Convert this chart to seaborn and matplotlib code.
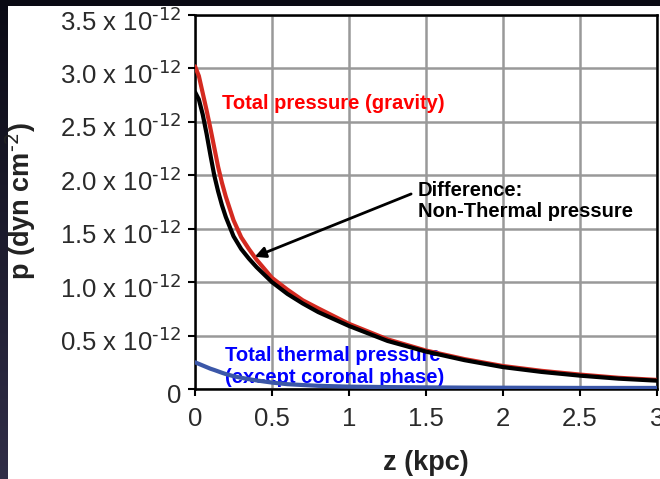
import numpy as np
import pandas as pd
import matplotlib
matplotlib.use("Agg")
import matplotlib.pyplot as plt
from matplotlib.patches import Rectangle
from matplotlib.ticker import FixedLocator, FixedFormatter
from matplotlib.transforms import ScaledTranslation
import seaborn as sns

# Height above the disc (kpc)
z_kpc = [0.0, 0.025, 0.05, 0.075, 0.1, 0.125, 0.15, 0.175, 0.2, 0.25, 0.3, 0.35, 0.4,
         0.5, 0.6, 0.7, 0.8, 1.0, 1.25, 1.5, 1.75, 2.0, 2.25, 2.5, 2.75, 3.0]
# Pressures in units of 1e-12 dyn cm^-2
p_total = [3.02, 2.93, 2.77, 2.61, 2.44, 2.26, 2.08, 1.93, 1.80, 1.58, 1.42, 1.31, 1.21,
           1.04, 0.93, 0.83, 0.755, 0.61, 0.465, 0.36, 0.28, 0.215, 0.17, 0.135, 0.105,
           0.085]
p_nonthermal = [2.78, 2.71, 2.57, 2.39, 2.19, 2.00, 1.85, 1.72, 1.61, 1.43, 1.31, 1.22,
                1.14, 1.00, 0.89, 0.80, 0.72, 0.59, 0.45, 0.35, 0.27, 0.205, 0.16, 0.125,
                0.097, 0.078]
p_thermal = [0.25, 0.235, 0.22, 0.205, 0.19, 0.178, 0.165, 0.152, 0.14, 0.12, 0.105,
             0.092, 0.08, 0.06, 0.045, 0.037, 0.03, 0.022, 0.018, 0.015, 0.013, 0.012,
             0.011, 0.010, 0.010, 0.010]

y_ticks = [0, 0.5, 1.0, 1.5, 2.0, 2.5, 3.0, 3.5]
y_ticklabels = ["0"] + [f"{v:.1f} x 10$^{{\\text{{-12}}}}$" for v in y_ticks[1:]]
x_ticks = [0, 0.5, 1, 1.5, 2, 2.5, 3]
x_ticklabels = ["0", "0.5", "1", "1.5", "2", "2.5", "3"]

df = pd.DataFrame({"z": z_kpc, "total": p_total, "nonthermal": p_nonthermal,
                   "thermal": p_thermal})

sns.set_theme(style="white")
plt.rcParams["font.family"] = ["Liberation Sans", "DejaVu Sans"]
plt.rcParams["mathtext.default"] = "regular"

fig = plt.figure(figsize=(6.6, 4.79), dpi=100)

# dark slide backdrop with a vertical gradient, and the white panel on top
bg = fig.add_axes([0, 0, 1, 1], zorder=-10)
grad = np.linspace(0, 1, 256).reshape(-1, 1)
top_c = np.array([0.04, 0.04, 0.08])
bot_c = np.array([0.19, 0.18, 0.28])
img = top_c + (bot_c - top_c) * grad[:, :, None] * np.ones((1, 2, 1))
bg.imshow(img, aspect="auto", extent=[0, 1, 0, 1], origin="upper")
bg.set_axis_off()
fig.patches.append(Rectangle((8 / 660, 0), 1, 1 - 6 / 479, transform=fig.transFigure,
                             facecolor="white", edgecolor="none", zorder=-5))

ax = fig.add_axes([195 / 660, 1 - 389 / 479, (657 - 195) / 660, (389 - 15) / 479])
ax.set_facecolor("white")

sns.lineplot(data=df, x="z", y="total", ax=ax, color="#d42a20", lw=3, zorder=3)
sns.lineplot(data=df, x="z", y="nonthermal", ax=ax, color="black", lw=3, zorder=4)
sns.lineplot(data=df, x="z", y="thermal", ax=ax, color="#3b57a8", lw=3, zorder=3)

ax.set_xlim(0, 3)
ax.set_ylim(0, 3.5)
ax.xaxis.set_major_locator(FixedLocator(x_ticks))
ax.xaxis.set_major_formatter(FixedFormatter(x_ticklabels))
ax.yaxis.set_major_locator(FixedLocator(y_ticks))
ax.yaxis.set_major_formatter(FixedFormatter(y_ticklabels))
ax.grid(True, color="#999999", lw=1.8)
ax.set_axisbelow(True)
for s in ax.spines.values():
    s.set_color("black")
    s.set_linewidth(1.8)
ax.tick_params(axis="both", which="major", direction="out", length=5, width=1.5,
               color="black", labelsize=18.5, labelcolor="#2a2a2a", pad=5,
               left=True, bottom=True)
ax.tick_params(axis="x", pad=8)

# nudge the y tick labels down a little so the digits sit on the tick
shift = ScaledTranslation(0, -3 / 72, fig.dpi_scale_trans)
for lbl in ax.get_yticklabels():
    lbl.set_transform(lbl.get_transform() + shift)

ax.set_ylabel("")
ax.set_xlabel("z (kpc)", fontsize=19.5, fontweight="bold", color="#222222", labelpad=14)
fig.text(21 / 660, 1 - 201 / 479, "p (dyn cm$^{\\text{-2}}$)", rotation=90, fontsize=19.5,
         fontweight="bold", color="#222222", ha="center", va="center")

ax.text(0.176, 2.67, "Total pressure (gravity)", color="#ff0000", fontsize=14.5,
        fontweight="bold", va="center", ha="left", zorder=2)
ax.text(1.445, 1.76, "Difference:\nNon-Thermal pressure", color="black", fontsize=14.5,
        fontweight="bold", va="center", ha="left", linespacing=1.15, zorder=2)
ax.text(0.195, 0.21, "Total thermal pressure\n(except coronal phase)", color="#0000ff",
        fontsize=14.5, fontweight="bold", va="center", ha="left", linespacing=1.15,
        zorder=2)
ax.annotate("", xy=(0.371, 1.227), xytext=(1.42, 1.835),
            arrowprops=dict(arrowstyle="-|>", color="black", lw=2,
                            mutation_scale=16), zorder=5)

fig.savefig("out.png", dpi=100)
